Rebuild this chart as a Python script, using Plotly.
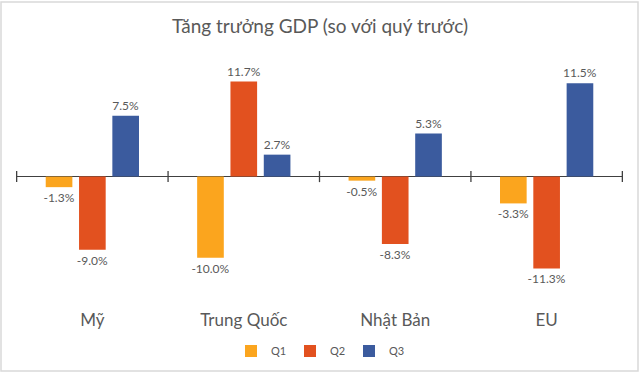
import plotly.graph_objects as go

categories = ["Mỹ", "Trung Quốc", "Nhật Bản", "EU"]
series_names = ["Q1", "Q2", "Q3"]
q1 = [-1.3, -10.0, -0.5, -3.3]
q2 = [-9.0, 11.7, -8.3, -11.3]
q3 = [7.5, 2.7, 5.3, 11.5]
colors = ["#FBA51E", "#E2511F", "#3B5B9E"]

FONT = "Lato, 'Open Sans', sans-serif"
TXT = "#595959"

fig = go.Figure()
for name, vals, col in zip(series_names, [q1, q2, q3], colors):
    fig.add_trace(go.Bar(
        x=categories, y=vals, name=name, marker=dict(color=col, line=dict(width=0)),
        text=[f"{v:.1f}%" for v in vals], textposition="outside", constraintext="none",
        textfont=dict(size=12, color=TXT, family=FONT), cliponaxis=False,
    ))

# tick marks crossing the zero line at category boundaries
for i in range(len(categories) + 1):
    fig.add_shape(type="line", xref="x", yref="y", x0=i - 0.5, x1=i - 0.5,
                  y0=-0.68, y1=0.68, line=dict(color="#404040", width=1.3))

# outer border
fig.add_shape(type="rect", xref="paper", yref="paper",
              x0=-15 / 607, x1=1 + 15 / 607, y0=-66 / 243, y1=1 + 60 / 243,
              line=dict(color="#D9D9D9", width=1.5), fillcolor="rgba(0,0,0,0)")

fig.update_layout(
    width=640, height=373,
    margin=dict(l=16, r=17, t=62, b=68, autoexpand=False),
    paper_bgcolor="white", plot_bgcolor="white",
    title=dict(text="Tăng trưởng GDP (so với quý trước)", x=0.5, xanchor="center",
               y=0.93, yanchor="middle", font=dict(size=19, color=TXT, family=FONT)),
    barmode="group", bargap=0.34, bargroupgap=0.2,
    showlegend=True,
    legend=dict(orientation="h", x=0.5, xanchor="center", yref="container",
                y=1 - 351 / 373, yanchor="middle",
                font=dict(size=11, color=TXT, family=FONT), itemwidth=30,
                entrywidth=14, traceorder="normal"),
    font=dict(family=FONT, color=TXT),
)
fig.update_xaxes(showline=False, ticks="", showgrid=False, automargin=False,
                 tickfont=dict(size=17, color=TXT, family=FONT), ticklabelstandoff=3)
fig.update_yaxes(range=[-15.8, 14.1], showgrid=False, showticklabels=False,
                 zeroline=True, zerolinecolor="#404040", zerolinewidth=1.3,
                 showline=False, ticks="", automargin=False)

fig.write_html("out.html", config={"displayModeBar": False},
               post_script="document.body.style.margin='0';document.body.style.overflow='hidden';")
